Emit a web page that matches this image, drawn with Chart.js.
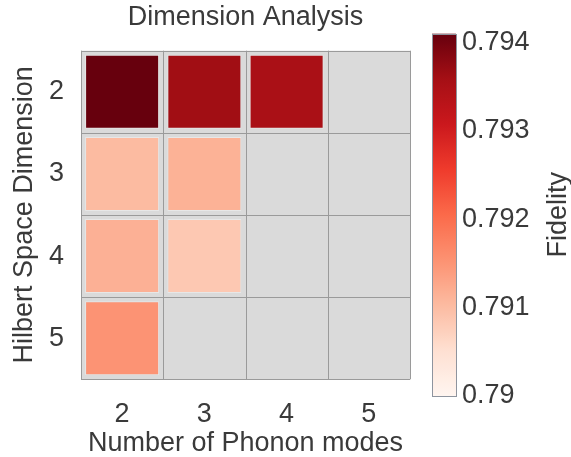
<!DOCTYPE html>
<html>
<head>
<meta charset="utf-8">
<script src="https://cdn.jsdelivr.net/npm/chart.js@4.4.0/dist/chart.umd.min.js"></script>
<style>
  html, body { margin: 0; padding: 0; background: #ffffff; }
  #wrap { width: 571px; height: 457px; }
</style>
</head>
<body>
<div id="wrap"><canvas id="c"></canvas></div>
<script>
// Phonon modes along x, Hilbert space dimension along y
const phononModes = ['2', '3', '4', '5'];
const hilbertDims = [2, 3, 4, 5];

// Fidelity per Hilbert dimension (row), one entry per phonon-mode count
const fidelityDim2 = [0.7941, 0.79362, 0.79352, null];
const fidelityDim3 = [0.79103, 0.79114, null, null];
const fidelityDim4 = [0.79116, 0.79085, null, null];
const fidelityDim5 = [0.79152, null, null, null];
const fidelityRows = [fidelityDim2, fidelityDim3, fidelityDim4, fidelityDim5];

// Colour scale limits and colourbar ticks
const fidelityMin = 0.79;
const fidelityMax = 0.7941;
const colorbarTicks = [0.79, 0.791, 0.792, 0.793, 0.794];

// "Reds" sequential palette
const REDS = ['#fff5f0', '#fee0d2', '#fcbba1', '#fc9272', '#fb6a4a', '#ef3b2c', '#cb181d', '#a50f15', '#67000d'];

function hexToRgb(h) {
  return [parseInt(h.slice(1, 3), 16), parseInt(h.slice(3, 5), 16), parseInt(h.slice(5, 7), 16)];
}
function redsAt(t) {
  t = Math.max(0, Math.min(1, t));
  const pos = t * (REDS.length - 1);
  const i = Math.min(Math.floor(pos), REDS.length - 2);
  const f = pos - i;
  const a = hexToRgb(REDS[i]), b = hexToRgb(REDS[i + 1]);
  const c = a.map((v, k) => Math.round(v + (b[k] - v) * f));
  return `rgb(${c[0]},${c[1]},${c[2]})`;
}
function colorFor(v) {
  return redsAt((v - fidelityMin) / (fidelityMax - fidelityMin));
}

const HALF = 0.45; // half height of a cell square, in row units

// One floating-bar dataset per row; empty cells are simply left out
const datasets = fidelityRows.map((row, r) => {
  const dim = hilbertDims[r];
  const pts = [];
  row.forEach((v, i) => {
    if (v !== null) pts.push({ x: phononModes[i], y: [dim - HALF, dim + HALF], f: v });
  });
  return {
    label: 'dim ' + dim,
    data: pts,
    backgroundColor: ctx => (ctx.raw ? colorFor(ctx.raw.f) : 'rgba(0,0,0,0)'),
    borderColor: 'rgba(255,255,255,0.35)',
    borderWidth: 1,
    borderSkipped: false,
    grouped: false,
    categoryPercentage: 0.9,
    barPercentage: 1.0,
    xAxisID: 'x',
    yAxisID: 'y'
  };
});

const FONT = "'Liberation Sans', Arial, sans-serif";
const TEXT = '#3a3a3a';
const SIZE = 27;

// Keep tick labels from adding extra margins to the plot area
function noEdgePadding(s) {
  s.paddingTop = 0; s.paddingBottom = 0; s.paddingLeft = 0; s.paddingRight = 0;
}

// Grey cell background and the grid separating cells
const gridPlugin = {
  id: 'cellGrid',
  beforeDatasetsDraw(chart) {
    const { ctx, scales: { x, y } } = chart;
    const n = phononModes.length;
    const xs = [], ys = [];
    for (let i = 0; i <= n; i++) xs.push(x.getPixelForValue(i - 0.5));
    for (let j = 0; j <= hilbertDims.length; j++) ys.push(y.getPixelForValue(hilbertDims[0] - 0.5 + j));
    ctx.save();
    ctx.fillStyle = '#dadada';
    ctx.fillRect(xs[0], ys[0], xs[n] - xs[0], ys[ys.length - 1] - ys[0]);
    ctx.strokeStyle = '#9a9a9a';
    ctx.lineWidth = 1;
    ctx.beginPath();
    xs.forEach(px => {
      const p = Math.round(px) + 0.5;
      ctx.moveTo(p, ys[0]); ctx.lineTo(p, ys[ys.length - 1]);
    });
    ys.forEach(py => {
      const p = Math.round(py) + 0.5;
      ctx.moveTo(xs[0], p); ctx.lineTo(xs[n], p);
    });
    ctx.stroke();
    ctx.restore();
  }
};

// Colourbar gradient and its label, placed on the 'cb' scale
const colorbarPlugin = {
  id: 'colorbar',
  afterDraw(chart) {
    const { ctx } = chart;
    const cb = chart.scales.cb;
    const top = cb.getPixelForValue(fidelityMax);
    const bottom = cb.getPixelForValue(fidelityMin);
    const left = cb.left + 22;
    const w = 24;
    const grad = ctx.createLinearGradient(0, bottom, 0, top);
    for (let k = 0; k <= 40; k++) grad.addColorStop(k / 40, redsAt(k / 40));
    ctx.save();
    ctx.fillStyle = grad;
    ctx.fillRect(left, top, w, bottom - top);
    ctx.strokeStyle = '#8e949e';
    ctx.lineWidth = 1;
    ctx.strokeRect(Math.round(left) + 0.5, Math.round(top) + 0.5, w, Math.round(bottom - top));
    ctx.translate(559, (top + bottom) / 2);
    ctx.rotate(-Math.PI / 2);
    ctx.fillStyle = TEXT;
    ctx.font = SIZE + 'px ' + FONT;
    ctx.textAlign = 'center';
    ctx.textBaseline = 'middle';
    ctx.fillText('Fidelity', 0, 0);
    ctx.restore();
  }
};

new Chart(document.getElementById('c'), {
  type: 'bar',
  data: { labels: phononModes, datasets },
  options: {
    responsive: true,
    maintainAspectRatio: false,
    animation: false,
    layout: { padding: 0 },
    plugins: {
      legend: { display: false },
      tooltip: { enabled: false },
      title: {
        display: true,
        fullSize: false,
        text: 'Dimension Analysis',
        color: TEXT,
        font: { family: FONT, size: SIZE, weight: 'normal' },
        padding: { top: 1, bottom: 0.3 }
      }
    },
    scales: {
      x: {
        type: 'category',
        offset: true,
        grid: { display: false, drawTicks: false },
        border: { display: false },
        ticks: { color: TEXT, font: { family: FONT, size: SIZE }, padding: 2 },
        title: { display: true, text: 'Number of Phonon modes', color: TEXT, font: { family: FONT, size: SIZE }, padding: { top: 0, bottom: -3 } },
        afterFit(s) { s.height = 61; noEdgePadding(s); }
      },
      y: {
        type: 'linear',
        reverse: true,
        min: 1.293,
        max: 5.703,
        grid: { display: false, drawTicks: false },
        border: { display: false },
        afterBuildTicks(s) { s.ticks = hilbertDims.map(v => ({ value: v })); },
        ticks: { color: TEXT, font: { family: FONT, size: SIZE }, padding: 17, callback: v => String(v) },
        title: { display: true, text: 'Hilbert Space Dimension', color: TEXT, font: { family: FONT, size: SIZE }, padding: { top: 8, bottom: 0 } },
        afterFit(s) { s.width = 81; noEdgePadding(s); }
      },
      cb: {
        type: 'linear',
        axis: 'y',
        position: 'right',
        min: fidelityMin,
        max: fidelityMax,
        grid: { display: false, drawTicks: false },
        border: { display: false },
        afterBuildTicks(s) { s.ticks = colorbarTicks.map(v => ({ value: v })); },
        ticks: { color: TEXT, font: { family: FONT, size: SIZE }, padding: 52, callback: v => String(+v.toFixed(3)) },
        afterFit(s) { s.width = 161; noEdgePadding(s); }
      }
    }
  },
  plugins: [gridPlugin, colorbarPlugin]
});
</script>
</body>
</html>
